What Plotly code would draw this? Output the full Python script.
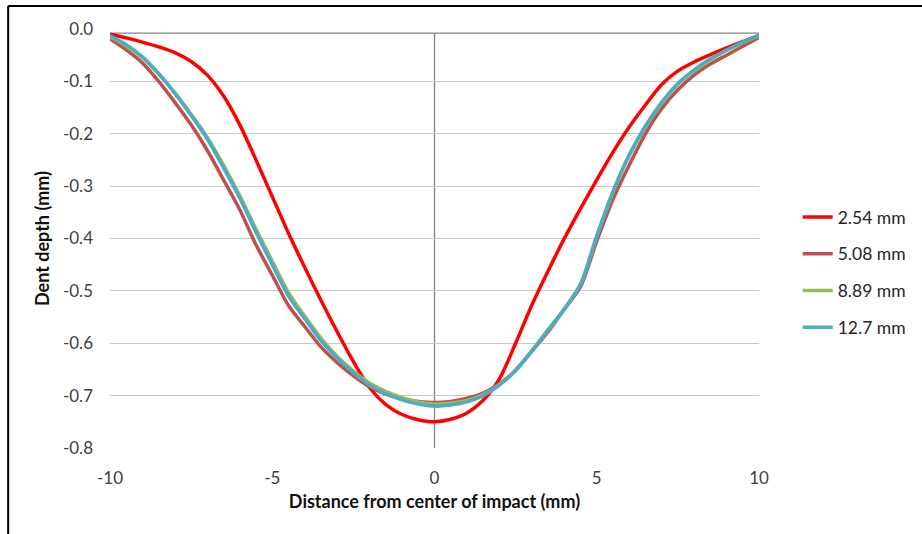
import plotly.graph_objects as go

# Distance from center of impact (mm)
distance = [-10, -9.5, -9, -8.5, -8, -7.5, -7, -6.5, -6, -5.5, -5, -4.5, -4, -3.5, -3, -2.5,
            -2, -1.5, -1, -0.5, 0, 0.5, 1, 1.5, 2, 2.5, 3, 3.5, 4, 4.5, 5, 5.5, 6, 6.5,
            7, 7.5, 8, 8.5, 9, 9.5, 10]

# Dent depth (mm) for each plate thickness
depth_254 = [-0.010, -0.017, -0.025, -0.034, -0.045, -0.062, -0.088, -0.128, -0.183, -0.250,
             -0.320, -0.390, -0.455, -0.518, -0.578, -0.635, -0.685, -0.717, -0.736, -0.746,
             -0.750, -0.745, -0.733, -0.709, -0.668, -0.600, -0.527, -0.462, -0.400, -0.343,
             -0.288, -0.235, -0.187, -0.145, -0.106, -0.080, -0.063, -0.049, -0.036, -0.024,
             -0.012]
depth_508 = [-0.019, -0.040, -0.065, -0.100, -0.140, -0.183, -0.232, -0.288, -0.345, -0.412,
             -0.470, -0.528, -0.568, -0.607, -0.637, -0.662, -0.683, -0.697, -0.706, -0.711,
             -0.713, -0.711, -0.705, -0.695, -0.677, -0.652, -0.615, -0.578, -0.535, -0.492,
             -0.405, -0.325, -0.260, -0.200, -0.152, -0.116, -0.088, -0.067, -0.050, -0.033,
             -0.016]
depth_889 = [-0.015, -0.032, -0.055, -0.086, -0.122, -0.163, -0.207, -0.260, -0.318, -0.382,
             -0.443, -0.503, -0.548, -0.590, -0.625, -0.653, -0.676, -0.692, -0.704, -0.712,
             -0.716, -0.714, -0.709, -0.698, -0.679, -0.651, -0.614, -0.574, -0.534, -0.487,
             -0.396, -0.312, -0.242, -0.187, -0.142, -0.106, -0.080, -0.059, -0.041, -0.026,
             -0.013]
depth_127 = [-0.013, -0.030, -0.053, -0.085, -0.123, -0.165, -0.210, -0.265, -0.323, -0.388,
             -0.450, -0.510, -0.553, -0.595, -0.628, -0.656, -0.680, -0.696, -0.708, -0.716,
             -0.720, -0.718, -0.712, -0.700, -0.680, -0.652, -0.615, -0.575, -0.535, -0.488,
             -0.395, -0.310, -0.240, -0.185, -0.140, -0.104, -0.078, -0.057, -0.040, -0.025,
             -0.012]

series_names = ["2.54 mm", "5.08 mm", "8.89 mm", "12.7 mm"]
series_colors = ["#FF0000", "#C0504D", "#9BBB59", "#4BACC6"]
series_values = [depth_254, depth_508, depth_889, depth_127]

y_ticks = [0.0, -0.1, -0.2, -0.3, -0.4, -0.5, -0.6, -0.7, -0.8]
x_ticks = [-10, -5, 0, 5, 10]

FONT = "Lato, 'Open Sans', sans-serif"

fig = go.Figure()
for name, color, vals in zip(series_names, series_colors, series_values):
    fig.add_trace(go.Scatter(
        x=distance, y=vals, name=name, mode="lines",
        line=dict(color=color, width=3.5, shape="spline", smoothing=0.8),
        legendgroup=name,
    ))

fig.update_layout(
    width=922, height=534,
    margin=dict(l=110, r=162, t=29, b=86),
    paper_bgcolor="white", plot_bgcolor="white",
    font=dict(family=FONT, size=17, color="#404040"),
    showlegend=True,
    legend=dict(
        x=1.058, y=0.42, xanchor="left", yanchor="middle",
        font=dict(family=FONT, size=17.5, color="#262626"),
        tracegroupgap=11, bgcolor="rgba(0,0,0,0)",
    ),
    xaxis=dict(
        range=[-10, 10], tickvals=x_ticks, ticktext=[str(v) for v in x_ticks],
        showgrid=False, zeroline=False, showline=False, ticks="",
        ticklabelstandoff=18,
        tickfont=dict(size=17, color="#404040"),
        title=dict(text="<b>Distance from center of impact (mm)</b>",
                   font=dict(size=18, color="#111111"), standoff=8),
    ),
    yaxis=dict(
        range=[-0.8, 0.0], tickvals=y_ticks, ticktext=[f"{v:.1f}" for v in y_ticks],
        showgrid=True, gridcolor="#C8C8C8", gridwidth=1,
        zeroline=False, showline=False, ticks="", ticklabelstandoff=16,
        tickfont=dict(size=17, color="#404040"),
        title=dict(text="<b>Dent depth (mm)</b>",
                   font=dict(size=18, color="#111111"), standoff=8),
    ),
)

axis_gray = "#868686"
# horizontal axis line, just under the top gridline, with end ticks
fig.add_shape(type="line", xref="x", yref="y", x0=-10, x1=10, y0=-0.0078, y1=-0.0078,
              line=dict(color=axis_gray, width=1.3), layer="below")
for xv in (-10, 10):
    fig.add_shape(type="line", xref="x", yref="y", x0=xv, x1=xv, y0=-0.0078, y1=-0.019,
                  line=dict(color="#BBBBBB", width=1.3), layer="below")
# vertical axis through the center of impact
fig.add_shape(type="line", xref="x", yref="y", x0=0, x1=0, y0=-0.0078, y1=-0.8,
              line=dict(color=axis_gray, width=1.3), layer="below")

# outer chart frame (left and top edges)
fig.add_shape(type="line", xref="paper", yref="paper",
              x0=-0.1569, x1=-0.1569, y0=1.0549, y1=-0.3,
              line=dict(color="black", width=2))
fig.add_shape(type="line", xref="paper", yref="paper",
              x0=-0.1569, x1=1.4, y0=1.0549, y1=1.0549,
              line=dict(color="black", width=2))

fig.write_html("out.html")
